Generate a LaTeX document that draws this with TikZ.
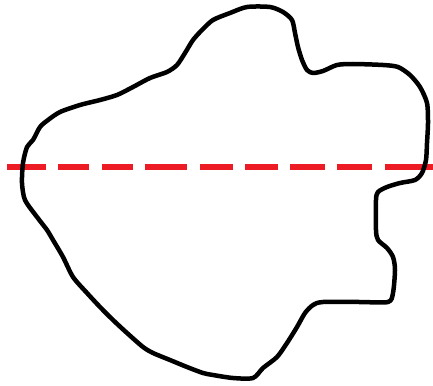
\documentclass[tikz,border=0pt]{standalone}
\usepackage{tikz}
\definecolor{cutred}{HTML}{ED1C24}
\tikzset{
  outline/.style={draw=black, line width=4.5pt, line join=round},
  cutline/.style={draw=cutred, line width=5.5pt}
}
\begin{document}
\begin{tikzpicture}[x=1pt, y=-1pt]
\useasboundingbox (0,0) rectangle (433,385);
% dashed cut across the blob
\foreach \a/\b in {7/46, 58/89, 102/133, 145/187, 200/233, 245/278, 290/325, 337/372, 385/433}
  \draw[cutline] (\a,167) -- (\b,167);
% outline of the blob
\draw[outline] plot[smooth cycle, tension=0.45] coordinates {
  (247,7) (270,7) (283,12) (292,20) (295,33) (298,47) (302,60) (307,70)
  (313,73) (323,71) (337,65) (353,64) (383,65) (398,67) (410,75) (420,87)
  (427,103) (428,123) (427,143) (426,160) (422,173) (415,180) (400,183)
  (387,187) (378,192) (376,200) (376,230) (378,240) (387,248) (393,257)
  (395,270) (393,293) (388,302) (360,302) (323,302) (313,305) (305,313)
  (297,327) (287,343) (277,357) (263,368) (253,378) (233,378) (213,375)
  (203,373) (187,367) (170,360) (153,353) (143,347) (127,333) (113,320)
  (100,307) (87,293) (73,277) (63,257) (53,240) (47,230) (37,217) (25,200)
  (22,183) (23,163) (27,147) (33,140) (40,127) (48,120) (60,112) (80,105)
  (100,100) (117,95) (133,87) (150,78) (167,72) (177,65) (185,53) (193,40)
  (202,30) (213,20) (230,13)
};
\end{tikzpicture}
\end{document}
